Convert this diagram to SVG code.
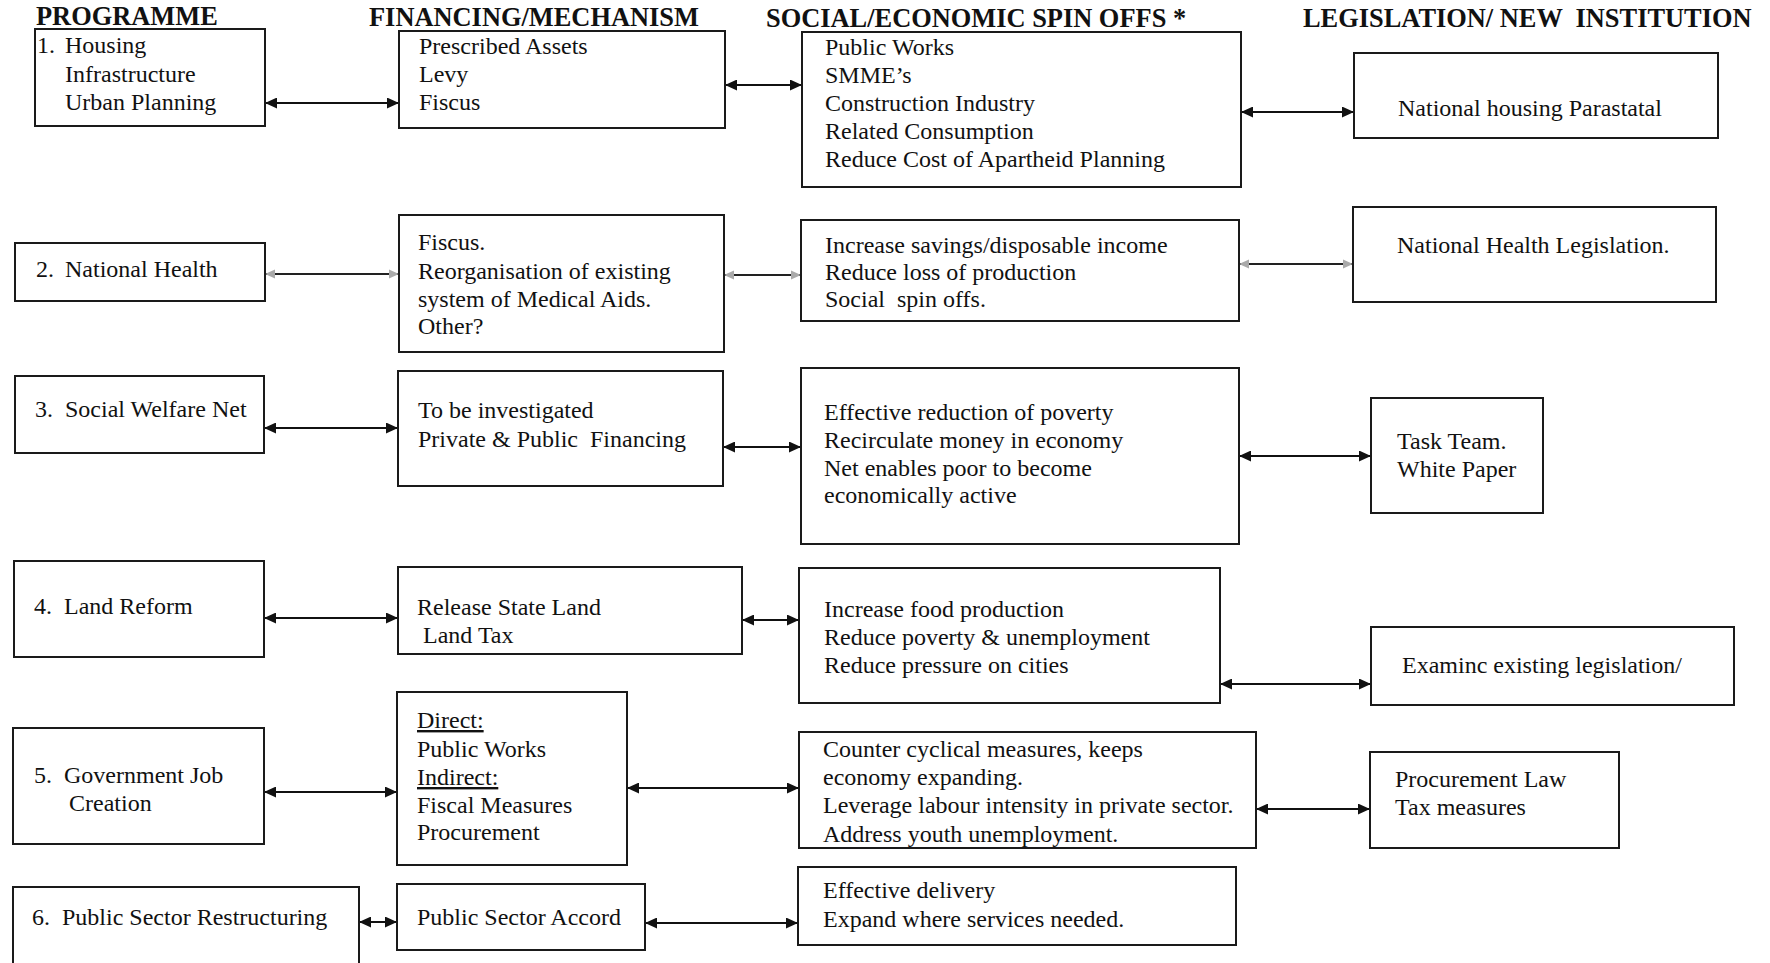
<svg xmlns="http://www.w3.org/2000/svg" width="1770" height="963" viewBox="0 0 1770 963">
<style>
.bg{fill:#ffffff}
.box{fill:#ffffff;stroke:#1a1a1a;stroke-width:2}
.t{font-family:"Liberation Serif","Times New Roman",serif;font-size:24px;fill:#111}
.h{font-family:"Liberation Serif","Times New Roman",serif;font-size:26.4px;font-weight:bold;fill:#111;white-space:pre}
.u{text-decoration:underline}
.c{stroke:#111;stroke-width:2;fill:none}
.cg{stroke:#222;stroke-width:2;fill:none}
</style>
<defs>
<marker id="ah" viewBox="0 0 12 11" refX="12" refY="5.5" markerWidth="12" markerHeight="11" markerUnits="userSpaceOnUse" orient="auto-start-reverse">
<path d="M0,0 L12,5.5 L0,11 Z" fill="#111"/>
</marker>
<marker id="ahg" viewBox="0 0 12 11" refX="12" refY="5.5" markerWidth="10" markerHeight="10" markerUnits="userSpaceOnUse" orient="auto-start-reverse">
<path d="M0,0 L12,5.5 L0,11 Z" fill="#aaa"/>
</marker>
</defs>
<rect class="bg" x="0" y="0" width="1770" height="963"/>

<g id="headers">
<text class="h" x="36" y="25">PROGRAMME</text>
<text class="h" x="369" y="26">FINANCING/MECHANISM</text>
<text class="h" x="766" y="27">SOCIAL/ECONOMIC SPIN OFFS *</text>
<text class="h" x="1303" y="27">LEGISLATION/ NEW  INSTITUTION</text>
</g>

<g id="connectors">
<line class="c" x1="265" y1="103" x2="399" y2="103" marker-start="url(#ah)" marker-end="url(#ah)"/>
<line class="c" x1="725" y1="85" x2="802" y2="85" marker-start="url(#ah)" marker-end="url(#ah)"/>
<line class="c" x1="1241" y1="112" x2="1354" y2="112" marker-start="url(#ah)" marker-end="url(#ah)"/>

<line class="cg" x1="265" y1="274" x2="399" y2="274" marker-start="url(#ahg)" marker-end="url(#ahg)"/>
<line class="cg" x1="724" y1="275" x2="801" y2="275" marker-start="url(#ahg)" marker-end="url(#ahg)"/>
<line class="cg" x1="1239" y1="264" x2="1353" y2="264" marker-start="url(#ahg)" marker-end="url(#ahg)"/>

<line class="c" x1="264" y1="428" x2="398" y2="428" marker-start="url(#ah)" marker-end="url(#ah)"/>
<line class="c" x1="723" y1="447" x2="801" y2="447" marker-start="url(#ah)" marker-end="url(#ah)"/>
<line class="c" x1="1239" y1="456" x2="1371" y2="456" marker-start="url(#ah)" marker-end="url(#ah)"/>

<line class="c" x1="264" y1="618" x2="398" y2="618" marker-start="url(#ah)" marker-end="url(#ah)"/>
<line class="c" x1="742" y1="620" x2="799" y2="620" marker-start="url(#ah)" marker-end="url(#ah)"/>
<line class="c" x1="1220" y1="684" x2="1371" y2="684" marker-start="url(#ah)" marker-end="url(#ah)"/>

<line class="c" x1="264" y1="792" x2="397" y2="792" marker-start="url(#ah)" marker-end="url(#ah)"/>
<line class="c" x1="627" y1="788" x2="799" y2="788" marker-start="url(#ah)" marker-end="url(#ah)"/>
<line class="c" x1="1256" y1="809" x2="1370" y2="809" marker-start="url(#ah)" marker-end="url(#ah)"/>

<line class="c" x1="359" y1="922" x2="397" y2="922" marker-start="url(#ah)" marker-end="url(#ah)"/>
<line class="c" x1="645" y1="923" x2="798" y2="923" marker-start="url(#ah)" marker-end="url(#ah)"/>
</g>

<g id="prog1">
<rect class="box" x="35" y="29" width="230" height="97"/>
<text class="t" x="37" y="53">1.</text>
<text class="t" x="65" y="53">Housing</text>
<text class="t" x="65" y="82">Infrastructure</text>
<text class="t" x="65" y="110">Urban Planning</text>
</g>
<g id="fin1">
<rect class="box" x="399" y="31" width="326" height="97"/>
<text class="t" x="419" y="54">Prescribed Assets</text>
<text class="t" x="419" y="82">Levy</text>
<text class="t" x="419" y="110">Fiscus</text>
</g>
<g id="spin1">
<rect class="box" x="802" y="32" width="439" height="155"/>
<text class="t" x="825" y="55">Public Works</text>
<text class="t" x="825" y="83">SMME’s</text>
<text class="t" x="825" y="111">Construction Industry</text>
<text class="t" x="825" y="139">Related Consumption</text>
<text class="t" x="825" y="167">Reduce Cost of Apartheid Planning</text>
</g>
<g id="leg1">
<rect class="box" x="1354" y="53" width="364" height="85"/>
<text class="t" x="1398" y="116">National housing Parastatal</text>
</g>

<g id="prog2">
<rect class="box" x="15" y="243" width="250" height="58"/>
<text class="t" x="36" y="277">2.</text>
<text class="t" x="65" y="277">National Health</text>
</g>
<g id="fin2">
<rect class="box" x="399" y="215" width="325" height="137"/>
<text class="t" x="418" y="250">Fiscus.</text>
<text class="t" x="418" y="279">Reorganisation of existing</text>
<text class="t" x="418" y="307">system of Medical Aids.</text>
<text class="t" x="418" y="334">Other?</text>
</g>
<g id="spin2">
<rect class="box" x="801" y="220" width="438" height="101"/>
<text class="t" x="825" y="253">Increase savings/disposable income</text>
<text class="t" x="825" y="280">Reduce loss of production</text>
<text class="t" x="825" y="307" style="white-space:pre">Social  spin offs.</text>
</g>
<g id="leg2">
<rect class="box" x="1353" y="207" width="363" height="95"/>
<text class="t" x="1397" y="253">National Health Legislation.</text>
</g>

<g id="prog3">
<rect class="box" x="15" y="376" width="249" height="77"/>
<text class="t" x="35" y="417">3.</text>
<text class="t" x="65" y="417">Social Welfare Net</text>
</g>
<g id="fin3">
<rect class="box" x="398" y="371" width="325" height="115"/>
<text class="t" x="418" y="418">To be investigated</text>
<text class="t" x="418" y="447" style="white-space:pre">Private &amp; Public  Financing</text>
</g>
<g id="spin3">
<rect class="box" x="801" y="368" width="438" height="176"/>
<text class="t" x="824" y="420">Effective reduction of poverty</text>
<text class="t" x="824" y="448">Recirculate money in economy</text>
<text class="t" x="824" y="476">Net enables poor to become</text>
<text class="t" x="824" y="503">economically active</text>
</g>
<g id="leg3">
<rect class="box" x="1371" y="398" width="172" height="115"/>
<text class="t" x="1397" y="449">Task Team.</text>
<text class="t" x="1397" y="477">White Paper</text>
</g>

<g id="prog4">
<rect class="box" x="14" y="561" width="250" height="96"/>
<text class="t" x="34" y="614">4.</text>
<text class="t" x="64" y="614">Land Reform</text>
</g>
<g id="fin4">
<rect class="box" x="398" y="567" width="344" height="87"/>
<text class="t" x="417" y="615">Release State Land</text>
<text class="t" x="423" y="643">Land Tax</text>
</g>
<g id="spin4">
<rect class="box" x="799" y="568" width="421" height="135"/>
<text class="t" x="824" y="617">Increase food production</text>
<text class="t" x="824" y="645">Reduce poverty &amp; unemployment</text>
<text class="t" x="824" y="673">Reduce pressure on cities</text>
</g>
<g id="leg4">
<rect class="box" x="1371" y="627" width="363" height="78"/>
<text class="t" x="1402" y="673">Examinc existing legislation/</text>
</g>

<g id="prog5">
<rect class="box" x="13" y="728" width="251" height="116"/>
<text class="t" x="34" y="783">5.</text>
<text class="t" x="64" y="783">Government Job</text>
<text class="t" x="69" y="811">Creation</text>
</g>
<g id="fin5">
<rect class="box" x="397" y="692" width="230" height="173"/>
<text class="t u" x="417" y="728">Direct:</text>
<text class="t" x="417" y="757">Public Works</text>
<text class="t u" x="417" y="785">Indirect:</text>
<text class="t" x="417" y="813">Fiscal Measures</text>
<text class="t" x="417" y="840">Procurement</text>
</g>
<g id="spin5">
<rect class="box" x="799" y="732" width="457" height="116"/>
<text class="t" x="823" y="757">Counter cyclical measures, keeps</text>
<text class="t" x="823" y="785">economy expanding.</text>
<text class="t" x="823" y="813">Leverage labour intensity in private sector.</text>
<text class="t" x="823" y="842">Address youth unemployment.</text>
</g>
<g id="leg5">
<rect class="box" x="1370" y="752" width="249" height="96"/>
<text class="t" x="1395" y="787">Procurement Law</text>
<text class="t" x="1395" y="815">Tax measures</text>
</g>

<g id="prog6">
<rect class="box" x="13" y="887" width="346" height="90"/>
<text class="t" x="32" y="925">6.</text>
<text class="t" x="62" y="925">Public Sector Restructuring</text>
</g>
<g id="fin6">
<rect class="box" x="397" y="884" width="248" height="66"/>
<text class="t" x="417" y="925">Public Sector Accord</text>
</g>
<g id="spin6">
<rect class="box" x="798" y="867" width="438" height="78"/>
<text class="t" x="823" y="898">Effective delivery</text>
<text class="t" x="823" y="927">Expand where services needed.</text>
</g>
</svg>
